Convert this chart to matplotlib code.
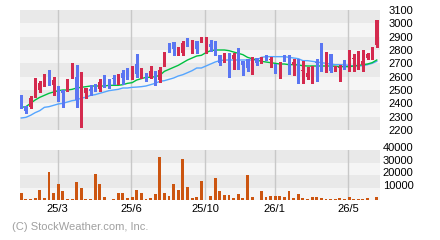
import matplotlib
matplotlib.use('Agg')
import matplotlib.pyplot as plt
from matplotlib.transforms import ScaledTranslation

# weekly candles (red = up, blue = down)
opens = [2427, 2380, 2375, 2495, 2502, 2562, 2650, 2540, 2530, 2500,
         2515, 2600, 2600, 2220, 2475, 2510, 2535, 2510, 2575, 2550,
         2590, 2580, 2625, 2625, 2590, 2695, 2600, 2610, 2600, 2645,
         2575, 2690, 2830, 2860, 2765, 2775, 2860, 2855, 2865, 2858,
         2820, 2845, 2855, 2765, 2730, 2780, 2735, 2815, 2715, 2735,
         2690, 2740, 2710, 2750, 2725, 2695, 2685, 2735, 2760, 2685,
         2730, 2645, 2595, 2585, 2710, 2710, 2645, 2770, 2645, 2665,
         2690, 2660, 2735, 2675, 2690, 2740, 2740, 2835]
highs = [2460, 2380, 2452, 2590, 2570, 2620, 2650, 2595, 2530, 2500,
         2585, 2700, 2690, 2635, 2515, 2535, 2545, 2580, 2615, 2585,
         2615, 2620, 2650, 2665, 2680, 2770, 2665, 2625, 2680, 2645,
         2675, 2785, 2855, 2860, 2820, 2865, 2890, 2875, 2865, 2895,
         2895, 2875, 2870, 2765, 2780, 2780, 2775, 2815, 2715, 2735,
         2745, 2740, 2745, 2765, 2745, 2695, 2710, 2765, 2760, 2730,
         2730, 2715, 2675, 2680, 2730, 2855, 2785, 2770, 2680, 2690,
         2725, 2800, 2770, 2795, 2800, 2780, 2820, 3025]
lows = [2365, 2327, 2365, 2445, 2485, 2530, 2540, 2460, 2420, 2375,
        2490, 2590, 2375, 2220, 2440, 2460, 2490, 2495, 2525, 2515,
        2545, 2545, 2545, 2580, 2580, 2600, 2590, 2565, 2590, 2535,
        2560, 2680, 2785, 2765, 2760, 2765, 2830, 2775, 2780, 2858,
        2775, 2790, 2760, 2685, 2710, 2595, 2660, 2655, 2615, 2640,
        2620, 2690, 2700, 2725, 2670, 2630, 2590, 2715, 2620, 2615,
        2555, 2555, 2580, 2555, 2570, 2645, 2635, 2635, 2640, 2570,
        2655, 2640, 2645, 2655, 2640, 2735, 2735, 2820]
closes = [2370, 2345, 2440, 2515, 2552, 2597, 2555, 2575, 2455, 2475,
          2575, 2690, 2425, 2455, 2515, 2490, 2515, 2560, 2560, 2535,
          2580, 2605, 2590, 2615, 2680, 2620, 2635, 2590, 2645, 2600,
          2650, 2785, 2820, 2805, 2785, 2855, 2850, 2860, 2810, 2862,
          2825, 2825, 2765, 2705, 2740, 2690, 2765, 2665, 2690, 2665,
          2720, 2700, 2730, 2735, 2735, 2635, 2690, 2725, 2635, 2710,
          2645, 2650, 2630, 2665, 2700, 2650, 2770, 2640, 2655, 2675,
          2665, 2710, 2740, 2730, 2715, 2770, 2820, 3025]

# moving averages
ma_short = [2370, 2375, 2400, 2425, 2445, 2460, 2475, 2485, 2495, 2500,
            2500, 2505, 2515, 2520, 2525, 2530, 2530, 2530, 2530, 2535,
            2535, 2535, 2540, 2550, 2555, 2575, 2585, 2595, 2595, 2600,
            2610, 2640, 2655, 2670, 2685, 2705, 2725, 2740, 2755, 2760,
            2780, 2795, 2800, 2800, 2800, 2795, 2785, 2775, 2765, 2745,
            2735, 2725, 2715, 2710, 2705, 2700, 2695, 2695, 2690, 2690,
            2688, 2682, 2680, 2680, 2680, 2680, 2680, 2680, 2678, 2675,
            2675, 2675, 2680, 2685, 2690, 2695, 2705, 2725]
ma_long = [2290, 2295, 2310, 2330, 2345, 2370, 2375, 2385, 2395, 2400,
           2410, 2420, 2425, 2440, 2445, 2460, 2465, 2475, 2485, 2495,
           2500, 2505, 2515, 2515, 2520, 2522, 2525, 2530, 2540, 2550,
           2565, 2570, 2580, 2590, 2605, 2615, 2630, 2645, 2665, 2665,
           2680, 2695, 2710, 2720, 2725, 2725, 2725, 2725, 2725, 2725,
           2725, 2725, 2745, 2750, 2750, 2750, 2750, 2750, 2745, 2740,
           2735, 2720, 2720, 2715, 2710, 2705, 2700, 2695, 2690, 2690,
           2688, 2685, 2680, 2680, 2682, 2690, 2700, 2715]

volumes = [5600, 800, 800, 1600, 8000, 1600, 22400, 5600, 12800, 7200,
           800, 800, 14400, 9600, 800, 800, 20800, 12800, 2400, 300,
           800, 5600, 5600, 1600, 2400, 8000, 5600, 800, 1600, 4800,
           34400, 5600, 3200, 12800, 8000, 32800, 10400, 1600, 2400, 15200,
           200, 3200, 17600, 7200, 4000, 4000, 1600, 4800, 1600, 20000,
           2400, 200, 7200, 2400, 3200, 3200, 3200, 2400, 7200, 1600,
           4800, 1600, 800, 2400, 2400, 1600, 800, 800, 800, 1600,
           800, 2400, 800, 800, 800, 1600, 200, 2400]

tick_pos = [7.85, 23.85, 39.85, 54.85, 70.85]
tick_labels = ['25/3', '25/6', '25/10', '26/1', '26/5']
price_ticks = list(range(2200, 3101, 100))
vol_ticks = [10000, 20000, 30000, 40000]

UP = '#d42a4e'
DOWN = '#5a76f2'
DARK = '#e9e9e9'
LIGHT = '#f5f5f5'
GRID = '#c8c8c8'


def draw_bands(ax, edges, top_dark):
    n = len(edges) - 1
    for k in range(n):
        # count from the top band
        from_top = n - 1 - k
        dark = (from_top % 2 == 0) == top_dark
        ax.axhspan(edges[k], edges[k + 1], color=DARK if dark else LIGHT,
                   lw=0, zorder=0)


def style_axes(ax):
    for s in ax.spines.values():
        s.set_visible(False)
    for x in tick_pos:
        ax.axvline(x, color=GRID, lw=1, zorder=1)
    ax.set_xlim(-0.28, 77.7)


def main():
    plt.rcParams['font.family'] = ['Liberation Sans', 'DejaVu Sans']
    fig = plt.figure(figsize=(4.4, 2.4), dpi=100)
    ax = fig.add_axes([20 / 440, 110 / 240, 360 / 440, 120 / 240])
    axv = fig.add_axes([20 / 440, 40 / 240, 360 / 440, 50 / 240])

    # price panel
    draw_bands(ax, price_ticks, top_dark=True)
    style_axes(ax)
    x = range(len(opens))
    colors = [UP if c >= o else DOWN for o, c in zip(opens, closes)]
    ax.vlines(x, lows, highs, colors=colors, lw=1, zorder=3,
              antialiased=False)
    bottoms = [min(o, c) for o, c in zip(opens, closes)]
    heights = [max(abs(c - o), 6) for o, c in zip(opens, closes)]
    ax.bar(x, heights, bottom=bottoms, width=0.62, color=colors, lw=0,
           zorder=4, antialiased=False)
    ax.plot(x, ma_long, color='#55a5ff', lw=1, zorder=2)
    ax.plot(x, ma_short, color='#00c040', lw=1, zorder=2)
    ax.set_ylim(2200, 3100)
    ax.set_xticks([])
    ax.yaxis.tick_right()
    ax.set_yticks(price_ticks)
    ax.tick_params(axis='y', length=0, pad=6, labelsize=8)

    # volume panel
    draw_bands(axv, [0, 10000, 20000, 30000, 40000], top_dark=True)
    style_axes(axv)
    axv.bar(x, volumes, width=0.62, color='#cc5510', lw=0, zorder=3,
            antialiased=False)
    axv.set_ylim(0, 40000)
    axv.yaxis.tick_right()
    axv.set_yticks(vol_ticks)
    axv.tick_params(axis='y', length=0, pad=2, labelsize=8)
    shift = ScaledTranslation(0, 2 / 72, fig.dpi_scale_trans)
    for lab in axv.get_yticklabels():
        lab.set_transform(lab.get_transform() + shift)
    axv.set_xticks(tick_pos)
    axv.set_xticklabels(tick_labels)
    axv.tick_params(axis='x', length=0, pad=3, labelsize=8)

    fig.text(12 / 440, 1 - 227 / 240, '(C) StockWeather.com, Inc.',
             color='#a0a0a0', fontsize=8, va='center')

    fig.savefig('out.png', dpi=100, facecolor='white')


if __name__ == '__main__':
    main()
